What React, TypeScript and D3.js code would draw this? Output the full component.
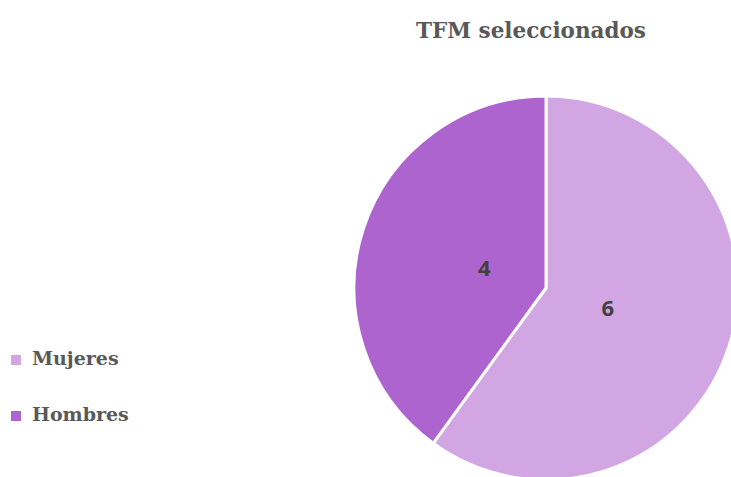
import React, { useEffect, useRef } from "react";
import * as d3 from "d3";

const categories = ["Mujeres", "Hombres"];
const values = [6, 4];
const colors = ["#d1a6e3", "#ae64cf"];
const title = "TFM seleccionados";

const App = () => {
  const ref = useRef<SVGSVGElement>(null);

  useEffect(() => {
    const width = 731;
    const height = 477;
    const cx = 546;
    const cy = 288;
    const radius = 192;

    const svg = d3.select(ref.current);
    svg.selectAll("*").remove();

    svg
      .append("text")
      .attr("x", 531)
      .attr("y", 38)
      .attr("text-anchor", "middle")
      .attr("font-family", "DejaVu Serif")
      .attr("font-weight", "bold")
      .attr("font-size", 21.5)
      .attr("fill", "#595959")
      .text(title);

    const pie = d3.pie<number>().sort(null).value((d) => d);
    const arcs = pie(values);
    const arc = d3.arc<d3.PieArcDatum<number>>().innerRadius(0).outerRadius(radius);
    const labelArc = d3.arc<d3.PieArcDatum<number>>().innerRadius(130).outerRadius(130);

    const g = svg.append("g").attr("transform", `translate(${cx},${cy})`);

    g.selectAll("path")
      .data(arcs)
      .enter()
      .append("path")
      .attr("d", arc)
      .attr("fill", (d, i) => colors[i])
      .attr("stroke", "#fff")
      .attr("stroke-width", 3)
      .attr("stroke-linejoin", "round");

    // centroid of an arc with inner=outer=r sits at r/2... keep labels ~65px out
    g.selectAll("text.lbl")
      .data(arcs)
      .enter()
      .append("text")
      .attr("class", "lbl")
      .attr("x", (d) => labelArc.centroid(d)[0] / 2)
      .attr("y", (d) => labelArc.centroid(d)[1] / 2)
      .attr("dy", "0.35em")
      .attr("text-anchor", "middle")
      .attr("font-family", "Open Sans")
      .attr("font-weight", "bold")
      .attr("font-size", 22)
      .attr("fill", "#404040")
      .text((d) => d.data);

    const legend = svg
      .append("g")
      .selectAll("g")
      .data(categories)
      .enter()
      .append("g")
      .attr("transform", (d, i) => `translate(11,${355 + i * 56})`);

    legend
      .append("rect")
      .attr("width", 10)
      .attr("height", 10)
      .attr("fill", (d, i) => colors[i]);

    legend
      .append("text")
      .attr("x", 21)
      .attr("y", 10)
      .attr("font-family", "DejaVu Serif")
      .attr("font-weight", "bold")
      .attr("font-size", 19)
      .attr("fill", "#595959")
      .text((d) => d);

    svg.attr("width", width).attr("height", height);
  }, []);

  return (
    <svg
      ref={ref}
      style={{ position: "absolute", left: 0, top: 0, overflow: "hidden" }}
    />
  );
};

export default App;
